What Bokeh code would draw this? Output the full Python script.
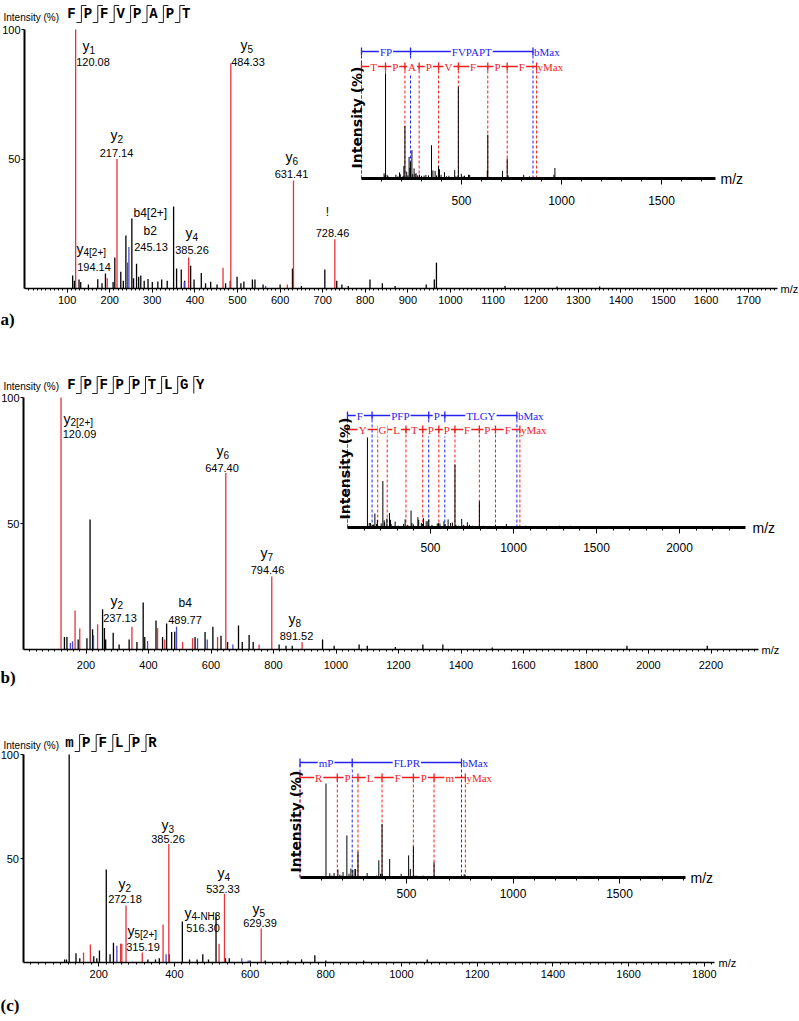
import math
from bokeh.plotting import figure
from bokeh.models import Range1d, LinearAxis, FixedTicker
from bokeh.layouts import column
from bokeh.embed import file_html
from bokeh.resources import INLINE
from bokeh.core.properties import value

# ======================= DATA =======================
# ---- (a) FPFVPAPT ----
a_sequence = ["F", "P", "F", "V", "P", "A", "P", "T"]
a_cut_b = [1, 1, 1, 1, 1, 1, 1]
a_cut_y = [1, 1, 1, 1, 1, 1, 1]
a_y_mz = [120.08, 217.14, 484.33, 631.41, 728.46, 385.26, 194.14, 466.0, 617.0]
a_y_int = [100, 50, 87, 41.7, 19, 12, 4, 8, 1.5]
a_b_mz = [245.13, 242.0, 375.0, 566.0]
a_b_int = [16, 10, 2.5, 1]
a_o_mz = [113, 117, 128, 132, 150, 172, 182, 190, 208, 212, 226, 232, 238, 252, 256, 263,
          268, 273, 281, 290, 300, 313, 322, 335, 350, 357, 368, 376, 390, 398, 415, 425,
          437, 452, 472, 483, 499, 508, 515, 535, 541, 560, 600, 629, 650, 705, 733, 745,
          760, 811, 840, 870, 943, 962, 967, 1128, 1250, 1350]
a_o_int = [5, 3, 3.5, 2.5, 1.5, 3.6, 2, 5.8, 2.5, 12, 6.5, 3, 20.5, 27, 4, 9.6,
           4.5, 5, 3, 3.7, 2.5, 2.7, 3.5, 3, 31.7, 7.7, 7.3, 3, 8.8, 3.5, 6, 2,
           2.6, 1.5, 2, 3, 4.5, 2, 2.7, 3.5, 3.5, 1.5, 1.5, 7.7, 1, 7.3, 3, 1.5,
           1, 3.5, 2, 1, 1.5, 3.5, 10, 1, 0.8, 0.8]
a_bl_mz = [0, 245.13, 857.46]
a_bl_txt = ["FP", "FVPAPT"]
a_yl_mz = [0, 120.08, 217.14, 288.17, 385.26, 484.33, 631.41, 728.46, 875.47]
a_yl_txt = ["T", "P", "A", "P", "V", "F", "P", "F"]
a_xticks = list(range(100, 1701, 100))
a_xminor = list(range(10, 1770, 10))
a_iticks = [500, 1000, 1500]
a_iminor = list(range(100, 1770, 100))
a_lab_ion = ["y", "y", "y", "y", "!", "y", "b4[2+]", "b2", "y"]
a_lab_sub = ["1", "2", "5", "6", "", "4[2+]", "", "", "4"]
a_lab_val = ["120.08", "217.14", "484.33", "631.41", "728.46", "194.14", "", "245.13", "385.26"]

# ---- (b) FPFPPTLGY ----
b_sequence = ["F", "P", "F", "P", "P", "T", "L", "G", "Y"]
b_cut_b = [1, 1, 1, 1, 1, 1, 1, 1]
b_cut_y = [1, 1, 1, 1, 1, 1, 1, 0]
b_y_mz = [120.09, 647.40, 794.46, 891.52, 237.13, 165, 180, 347, 429, 509, 541, 621, 754, 452]
b_y_int = [100, 70, 29, 3, 10, 15.5, 8.3, 9, 8.5, 3, 4.5, 5, 2, 4]
b_b_mz = [489.77, 150, 157, 224, 397, 557, 588, 670]
b_b_int = [9, 2.6, 3.3, 5.7, 3.4, 4.5, 4, 2]
b_o_mz = [131, 139, 175, 203, 213, 221, 253, 259, 263, 287, 306, 338, 363, 383, 388, 424,
          445, 458, 474, 484, 549, 581, 606, 632, 653, 688, 700, 722, 735, 818, 840, 860,
          957, 994, 1074, 1100, 1190, 1278, 1342, 1500, 1931, 2188]
b_o_int = [5, 5, 4, 4.5, 51.6, 8, 16, 8.5, 4, 6.6, 2, 4, 3, 18.7, 5, 11.5,
           5, 10.3, 6.9, 7, 5, 6.9, 9, 5.5, 3, 9.5, 3, 5.8, 3, 2, 1.5, 1.5,
           4, 1.5, 2, 1.5, 1, 2, 2, 0.8, 1.5, 1.5]
b_bl_mz = [0, 148.08, 489.25, 586.30, 1020.50]
b_bl_txt = ["F", "PFP", "P", "TLGY"]
b_yl_mz = [0, 182.08, 239.10, 352.19, 453.23, 550.29, 647.34, 794.41, 891.46, 1038.53]
b_yl_txt = ["Y", "G", "L", "T", "P", "P", "F", "P", "F"]
b_xticks = list(range(200, 2201, 200))
b_xminor = list(range(20, 2350, 20))
b_iticks = [500, 1000, 1500, 2000]
b_iminor = list(range(100, 2390, 100))
b_lab_ion = ["y", "y", "y", "y", "y", "b4"]
b_lab_sub = ["2[2+]", "6", "7", "8", "2", ""]
b_lab_val = ["120.09", "647.40", "794.46", "891.52", "237.13", "489.77"]

# ---- (c) mPFLPR ----
c_sequence = ["m", "P", "F", "L", "P", "R"]
c_cut_b = [1, 1, 1, 1, 1]
c_cut_y = [1, 1, 1, 1, 1]
c_y_mz = [385.26, 272.18, 532.33, 629.39, 370, 518, 315.19, 178, 160, 258, 261]
c_y_int = [57, 27.4, 33, 16.3, 18.3, 9, 4.8, 8.6, 4.8, 9, 9]
c_b_mz = [248, 378, 578, 595]
c_b_int = [8, 4, 2, 1]
c_o_mz = [110, 115, 122, 140, 150, 187, 195, 202, 220, 230, 239, 330, 350, 360, 386, 421,
          440, 460, 475, 490, 510, 535, 545, 600, 640, 700, 736, 771, 800, 900, 1068]
c_o_int = [1.5, 1.5, 100, 4.5, 2, 3, 2, 5.8, 44.7, 4, 9.5, 1.5, 1.5, 2, 4, 19.7,
           1.5, 1.5, 4, 1.5, 23.5, 2, 2, 1, 1, 1, 1.5, 3.5, 1, 1, 1.5]
c_bl_mz = [0, 245.10, 758.42]
c_bl_txt = ["mP", "FLPR"]
c_yl_mz = [0, 175.12, 272.17, 385.26, 532.33, 629.39, 776.43]
c_yl_txt = ["R", "P", "L", "F", "P", "m"]
c_xticks = list(range(200, 1801, 200))
c_xminor = list(range(20, 1826, 20))
c_iticks = [500, 1000, 1500]
c_iminor = list(range(100, 1810, 100))
c_lab_ion = ["y", "y", "y", "y", "y", "y"]
c_lab_sub = ["3", "2", "4", "5[2+]", "4-NH3", "5"]
c_lab_val = ["385.26", "272.18", "532.33", "315.19", "516.30", "629.39"]

# ======================= LAYOUT / STYLE =======================
W = 799
FN = "Liberation Sans"
MONO = "Liberation Mono"
SERIF = "Liberation Serif"
RED_P, BLUE_P = "#e8323c", "#4b4bd2"
LRED, LBLUE = "#f01e1e", "#2424ee"

LA = dict(label="a)", top=0, h=340, mx0=24, mk=0.426, my0=288, mky=2.59, xmax=1768, xstand=3,
          ix0=361, ik=0.2, iy0=178, iky=1.05, ixmax=1770, istand=11, blue_py=51, red_py=66,
          seq_x0=71, seq_dx=16.4, seq_py=13.5, int_py=17, lab_py=319, mz_px=780, imz_px=720,
          iyl=(356, 117),
          ion_pos=[(82, 45), (110, 134), (240, 44), (285, 156), (327, 211), (76, 248), (133, 212), (143, 230), (185, 232)],
          val_pos=[(92.5, 61), (116, 152), (247.5, 61), (291, 173), (332, 232), (93.5, 266), None, (150.5, 246), (191.5, 249)])
LB = dict(label="b)", top=340, h=350, mx0=23, mk=0.3125, my0=649, mky=2.52, xmax=2353, xstand=7,
          ix0=347, ik=0.166, iy0=527, iky=0.9, ixmax=2398, istand=9, blue_py=415, red_py=429,
          seq_x0=71, seq_dx=16.1, seq_py=384.5, int_py=386, lab_py=677, mz_px=761, imz_px=752,
          iyl=(344, 468),
          ion_pos=[(63, 418), (216, 450), (260, 552), (288, 618), (110, 600), (178, 602)],
          val_pos=[(79, 433), (221.5, 467), (267, 569), (296, 635), (119.5, 617), (184.5, 619)])
LC = dict(label="(c)", top=690, h=331, mx0=22.5, mk=0.3785, my0=962, mky=2.08, xmax=1826, xstand=3,
          ix0=299.5, ik=0.213, iy0=877, iky=0.94, ixmax=1810, istand=5, blue_py=762, red_py=777,
          seq_x0=69, seq_dx=16.6, seq_py=742.5, int_py=745, lab_py=1005, mz_px=718, imz_px=690,
          iyl=(295, 821),
          ion_pos=[(161, 824), (118, 883), (217, 872), (127, 930), (184, 912), (252, 908)],
          val_pos=[(167.5, 838), (124.5, 898), (222.5, 888), (142.5, 946), (202.5, 927), (259.5, 922)])


def panel(L, D):
    top, h = L["top"], L["h"]
    X = lambda px: (px - L["mx0"]) / L["mk"]
    Y = lambda py: (L["my0"] - py) / L["mky"]
    IX = lambda px: (px - L["ix0"]) / L["ik"]
    IY = lambda py: (L["iy0"] - py) / L["iky"]
    p = figure(width=W, height=h, x_range=Range1d(X(0), X(W)), y_range=Range1d(Y(top + h), Y(top)),
               x_axis_type=None, y_axis_type=None, output_backend="svg", toolbar_location=None,
               min_border=0, outline_line_color=None)
    p.extra_x_ranges = {"ins": Range1d(IX(0), IX(W))}
    p.extra_y_ranges = {"ins": Range1d(IY(top + h), IY(top))}
    INS = dict(x_range_name="ins", y_range_name="ins")

    # ---- main axes ----
    xa = LinearAxis(fixed_location=0, bounds=(0, L["xmax"]),
                    ticker=FixedTicker(ticks=D["xticks"], minor_ticks=D["xminor"]),
                    axis_line_width=1.5, axis_line_color="black",
                    major_tick_in=0, major_tick_out=4, minor_tick_in=0, minor_tick_out=2,
                    major_tick_line_color="black", minor_tick_line_color="black",
                    major_label_text_font=FN, major_label_text_font_size="11px",
                    major_label_text_color="black", major_label_standoff=L["xstand"])
    p.add_layout(xa, "below")
    ya = LinearAxis(fixed_location=0, bounds=(0, 100), ticker=FixedTicker(ticks=[50, 100]),
                    axis_line_width=2, axis_line_color="black",
                    major_tick_in=0, major_tick_out=3, minor_tick_in=0, minor_tick_out=0,
                    major_tick_line_color="black",
                    major_label_text_font=FN, major_label_text_font_size="11px",
                    major_label_text_color="black", major_label_standoff=1)
    p.add_layout(ya, "left")

    # ---- main peaks ----
    for mz, it, col in [(D["o_mz"], D["o_int"], "black"), (D["b_mz"], D["b_int"], BLUE_P),
                        (D["y_mz"], D["y_int"], RED_P)]:
        p.segment(x0=mz, y0=[0] * len(mz), x1=mz, y1=it, line_color=col, line_width=1.3)

    # ---- peak labels ----
    for i, ion in enumerate(D["lab_ion"]):
        lx, cy = L["ion_pos"][i]
        sub = D["lab_sub"][i]
        if ion == "!":
            p.text(x=[X(lx)], y=[Y(cy)], text=[ion], text_align="center", text_baseline="middle",
                   text_font=value(FN), text_font_size="12px", text_color="black")
        else:
            p.text(x=[X(lx)], y=[Y(cy)], text=[ion], text_align="left", text_baseline="middle",
                   text_font=value(FN), text_font_size="14px" if sub else "12px", text_color="black")
        if sub:
            p.text(x=[X(lx + 7)], y=[Y(cy + 4)], text=[sub], text_align="left", text_baseline="middle",
                   text_font=value(FN), text_font_size="10px", text_color="black")
        vp = L["val_pos"][i]
        if vp is not None and D["lab_val"][i]:
            p.text(x=[X(vp[0])], y=[Y(vp[1])], text=[D["lab_val"][i]], text_align="center",
                   text_baseline="middle", text_font=value(FN), text_font_size="11px", text_color="black")

    # ---- inset ----
    ia = LinearAxis(x_range_name="ins", y_range_name="ins", fixed_location=0, bounds=(0, L["ixmax"]),
                    ticker=FixedTicker(ticks=D["iticks"], minor_ticks=D["iminor"]),
                    axis_line_width=3, axis_line_color="black",
                    major_tick_in=0, major_tick_out=6, minor_tick_in=0, minor_tick_out=3,
                    major_tick_line_color="black", minor_tick_line_color="black",
                    major_label_text_font=FN, major_label_text_font_size="12px",
                    major_label_text_color="black", major_label_standoff=L["istand"])
    p.add_layout(ia, "below")
    allmz = D["o_mz"] + D["b_mz"] + D["y_mz"]
    allint = D["o_int"] + D["b_int"] + D["y_int"]
    yb, yr = IY(L["blue_py"]), IY(L["red_py"])
    th = 4 / L["iky"]
    ladders = [(D["bl_mz"], D["bl_txt"], yb, LBLUE, "bMax"), (D["yl_mz"], D["yl_txt"], yr, LRED, "yMax")]
    for pos, txt, lev, col, end in ladders:
        n = len(pos)
        p.segment(x0=pos, y0=[0] * n, x1=pos, y1=[lev] * n, line_color=col, line_dash="3 2",
                  line_width=1, **INS)
    p.segment(x0=allmz, y0=[0] * len(allmz), x1=allmz, y1=allint, line_color="black",
              line_width=1, **INS)
    for pos, txt, lev, col, end in ladders:
        n = len(pos)
        p.segment(x0=[pos[0]], y0=[lev], x1=[pos[-1]], y1=[lev], line_color=col, line_width=1.3, **INS)
        p.segment(x0=pos, y0=[lev - th] * n, x1=pos, y1=[lev + th] * n, line_color=col,
                  line_width=1.3, **INS)
        mids = [(pos[k] + pos[k + 1]) / 2 for k in range(n - 1)]
        p.text(x=mids, y=[lev] * (n - 1), text=txt, text_align="center", text_baseline="middle",
               text_color=col, text_font=value(SERIF), text_font_size="11px",
               background_fill_color="white", padding=1, **INS)
        p.text(x=[pos[-1]], y=[lev], text=[end], x_offset=1, text_align="left", text_baseline="middle",
               text_color=col, text_font=value(SERIF), text_font_size="11px",
               background_fill_color="white", **INS)
    p.text(x=[IX(L["iyl"][0])], y=[IY(L["iyl"][1])], text=["Intensity (%)"], angle=math.pi / 2,
           text_align="center", text_baseline="middle", text_font=value("DejaVu Sans"),
           text_font_size="14px", text_font_style="bold", text_color="black", **INS)
    p.text(x=[IX(L["imz_px"])], y=[0], text=["m/z"], text_align="left", text_baseline="middle",
           text_font=value(FN), text_font_size="14px", text_color="black", **INS)

    # ---- texts on main ----
    p.text(x=[X(L["mz_px"])], y=[0], text=["m/z"], text_align="left", text_baseline="middle",
           text_font=value(FN), text_font_size="11px", text_color="black")
    p.text(x=[X(3)], y=[Y(L["int_py"])], text=["Intensity (%)"], text_align="left", text_baseline="middle",
           text_font=value(FN), text_font_size="10px", text_color="black")
    p.text(x=[X(0)], y=[Y(L["lab_py"])], text=[L["label"]], text_align="left", text_baseline="middle",
           text_font=value(SERIF), text_font_size="17px", text_font_style="bold",
           text_color="black")

    # ---- sequence with fragment marks ----
    seq = D["sequence"]
    cx = [L["seq_x0"] + k * L["seq_dx"] for k in range(len(seq))]
    sy = L["seq_py"]
    p.text(x=[X(c) for c in cx], y=[Y(sy)] * len(seq), text=seq, text_align="center", text_baseline="middle",
           text_font=value(MONO), text_font_size="14px", text_font_style="bold", text_color="black")
    vx, vy0, vy1, hx0, hx1, hy = [], [], [], [], [], []
    for k in range(1, len(seq)):
        sx = cx[k] - 6.5
        vx.append(X(sx)); vy0.append(Y(sy - 8.5)); vy1.append(Y(sy + 8.5))
        if D["cut_b"][k - 1]:
            hx0.append(X(sx)); hx1.append(X(sx + 5)); hy.append(Y(sy - 8.5))
        if D["cut_y"][k - 1]:
            hx0.append(X(sx - 5)); hx1.append(X(sx)); hy.append(Y(sy + 8.5))
    p.segment(x0=vx, y0=vy0, x1=vx, y1=vy1, line_color="#222222", line_width=1)
    p.segment(x0=hx0, y0=hy, x1=hx1, y1=hy, line_color="#222222", line_width=1)
    return p


def pack(prefix):
    g = globals()
    keys = ["sequence", "cut_b", "cut_y", "y_mz", "y_int", "b_mz", "b_int", "o_mz", "o_int",
            "bl_mz", "bl_txt", "yl_mz", "yl_txt", "xticks", "xminor", "iticks", "iminor",
            "lab_ion", "lab_sub", "lab_val"]
    return {k: g[prefix + "_" + k] for k in keys}


pa = panel(LA, pack("a"))
pb = panel(LB, pack("b"))
pc = panel(LC, pack("c"))
layout = column(pa, pb, pc)
open("out.html", "w").write(file_html(layout, INLINE))
